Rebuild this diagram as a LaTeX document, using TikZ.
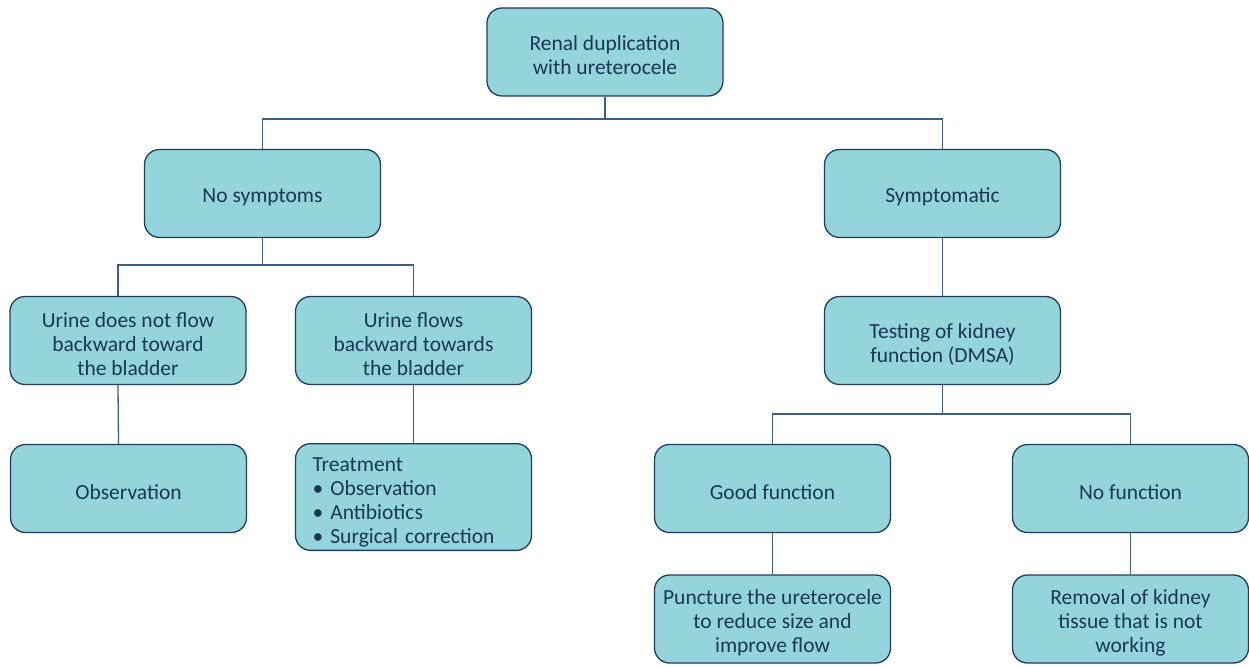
\documentclass[tikz,border=0pt]{standalone}
\usepackage{fontspec}
\setmainfont{Carlito}
\definecolor{boxfill}{HTML}{94D5DC}
\definecolor{boxline}{HTML}{1F3D5C}
\definecolor{txt}{HTML}{1B3656}
\definecolor{conn}{HTML}{3F5F7F}
\newcommand\dnstrut[1]{\rule{0pt}{#1}}
\begin{document}
\begin{tikzpicture}[x=1pt,y=-1pt,
  box/.style={draw=boxline, fill=boxfill, line width=1.3pt, rounded corners=15pt,
    minimum width=236pt, minimum height=88pt, align=center, text=txt,
    font=\fontsize{21.5}{24}\selectfont, inner sep=3pt},
  link/.style={draw=conn, line width=1.3pt}]
\useasboundingbox (0,0) rectangle (1249,666);
\node[box] (top) at (605,52) {\dnstrut{22pt}Renal duplication\\with ureterocele};
\node[box] (nosym) at (262.5,193.5) {\dnstrut{22pt}No symptoms};
\node[box] (sym) at (942.5,193.5) {\dnstrut{22pt}Symptomatic};
\node[box] (nof) at (128,340.5) {\dnstrut{22pt}Urine does not flow\\backward toward\\the bladder};
\node[box] (flow) at (413.5,340.5) {\dnstrut{22pt}Urine flows\\backward towards\\the bladder};
\node[box] (test) at (942.5,340.5) {\dnstrut{22pt}Testing of kidney\\function (DMSA)};
\node[box] (obs) at (128.5,488.5) {\dnstrut{22pt}Observation};
\node[box, minimum height=106pt, text width=202pt, inner xsep=17pt, align=left] (treat) at (413.5,497)
  {\dnstrut{25pt}Treatment\\• Observation\\• Antibiotics\\• Surgical correction};
\node[box] (good) at (772.5,488.5) {\dnstrut{22pt}Good function};
\node[box] (nofun) at (1130.5,488.5) {\dnstrut{22pt}No function};
\node[box] (punct) at (772.5,619) {\dnstrut{22pt}Puncture the ureterocele\\to reduce size and\\improve flow};
\node[box] (remov) at (1130.5,619) {\dnstrut{22pt}Removal of kidney\\tissue that is not\\working};
\coordinate (j1) at (605,119);
\coordinate (j2) at (262.5,265);
\coordinate (j3) at (942.5,414);
\draw[link] (top.south) -- (j1);
\draw[link] (nosym.north) |- (j1) -| (sym.north);
\draw[link] (nosym.south) -- (j2);
\draw[link] ([xshift=-10pt]nof.north) |- (j2) -| (flow.north);
\draw[link] ([xshift=-10pt]nof.south) -- ([xshift=-10pt]obs.north);
\draw[link] (flow.south) -- (treat.north);
\draw[link] (sym.south) -- (test.north);
\draw[link] (test.south) -- (j3);
\draw[link] (good.north) |- (j3) -| (nofun.north);
\draw[link] (good.south) -- (punct.north);
\draw[link] (nofun.south) -- (remov.north);
\end{tikzpicture}
\end{document}
